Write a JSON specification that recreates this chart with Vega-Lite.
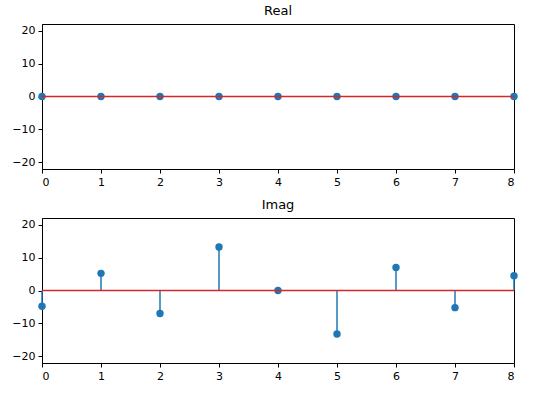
{
  "$schema": "https://vega.github.io/schema/vega-lite/v6.json",
  "padding": {"left": 11, "top": 4, "right": 15, "bottom": 5},
  "spacing": 10,
  "background": "white",
  "config": {
    "font": "DejaVu Sans",
    "view": {"stroke": "black", "strokeWidth": 1},
    "axis": {"grid": false, "domainColor": "black", "tickColor": "black", "labelColor": "black", "labelFontSize": 11, "labelFont": "DejaVu Sans", "tickSize": 4, "labelPadding": 3, "titleFontSize": 11, "labelOverlap": false},
    "title": {"fontSize": 13, "fontWeight": "normal", "font": "DejaVu Sans", "offset": 6, "color": "black"}
  },
  "datasets": {
    "real": [
      {"n": 0, "v": 0}, {"n": 1, "v": 0}, {"n": 2, "v": 0}, {"n": 3, "v": 0}, {"n": 4, "v": 0},
      {"n": 5, "v": 0}, {"n": 6, "v": 0}, {"n": 7, "v": 0}, {"n": 8, "v": 0}
    ],
    "imag": [
      {"n": 0, "v": -4.8}, {"n": 1, "v": 5.2}, {"n": 2, "v": -7.0}, {"n": 3, "v": 13.2}, {"n": 4, "v": 0},
      {"n": 5, "v": -13.2}, {"n": 6, "v": 7.0}, {"n": 7, "v": -5.2}, {"n": 8, "v": 4.5}
    ]
  },
  "vconcat": [
    {
      "title": "Real",
      "width": 472,
      "height": 145,
      "data": {"name": "real"},
      "encoding": {
        "x": {"field": "n", "type": "quantitative", "title": null, "scale": {"domain": [0, 8], "nice": false, "zero": false}, "axis": {"values": [0,1,2,3,4,5,6,7,8], "format": "d"}},
        "y": {"field": "v", "type": "quantitative", "title": null, "scale": {"domain": [-22, 22], "nice": false}, "axis": {"values": [-20,-10,0,10,20], "tickCount": 5}}
      },
      "layer": [
        {"mark": {"type": "rule", "color": "#1f77b4", "strokeWidth": 1.5}, "encoding": {"y2": {"datum": 0}}},
        {"mark": {"type": "point", "filled": true, "opacity": 1, "color": "#1f77b4", "size": 55, "clip": false}},
        {"mark": {"type": "line", "color": "#d62728", "strokeWidth": 1.5, "clip": false}, "encoding": {"y": {"datum": 0}}}
      ]
    },
    {
      "title": "Imag",
      "width": 472,
      "height": 145,
      "data": {"name": "imag"},
      "encoding": {
        "x": {"field": "n", "type": "quantitative", "title": null, "scale": {"domain": [0, 8], "nice": false, "zero": false}, "axis": {"values": [0,1,2,3,4,5,6,7,8], "format": "d"}},
        "y": {"field": "v", "type": "quantitative", "title": null, "scale": {"domain": [-22, 22], "nice": false}, "axis": {"values": [-20,-10,0,10,20], "tickCount": 5}}
      },
      "layer": [
        {"mark": {"type": "rule", "color": "#1f77b4", "strokeWidth": 1.5}, "encoding": {"y2": {"datum": 0}}},
        {"mark": {"type": "point", "filled": true, "opacity": 1, "color": "#1f77b4", "size": 55, "clip": false}},
        {"mark": {"type": "line", "color": "#d62728", "strokeWidth": 1.5, "clip": false}, "encoding": {"y": {"datum": 0}}}
      ]
    }
  ]
}
